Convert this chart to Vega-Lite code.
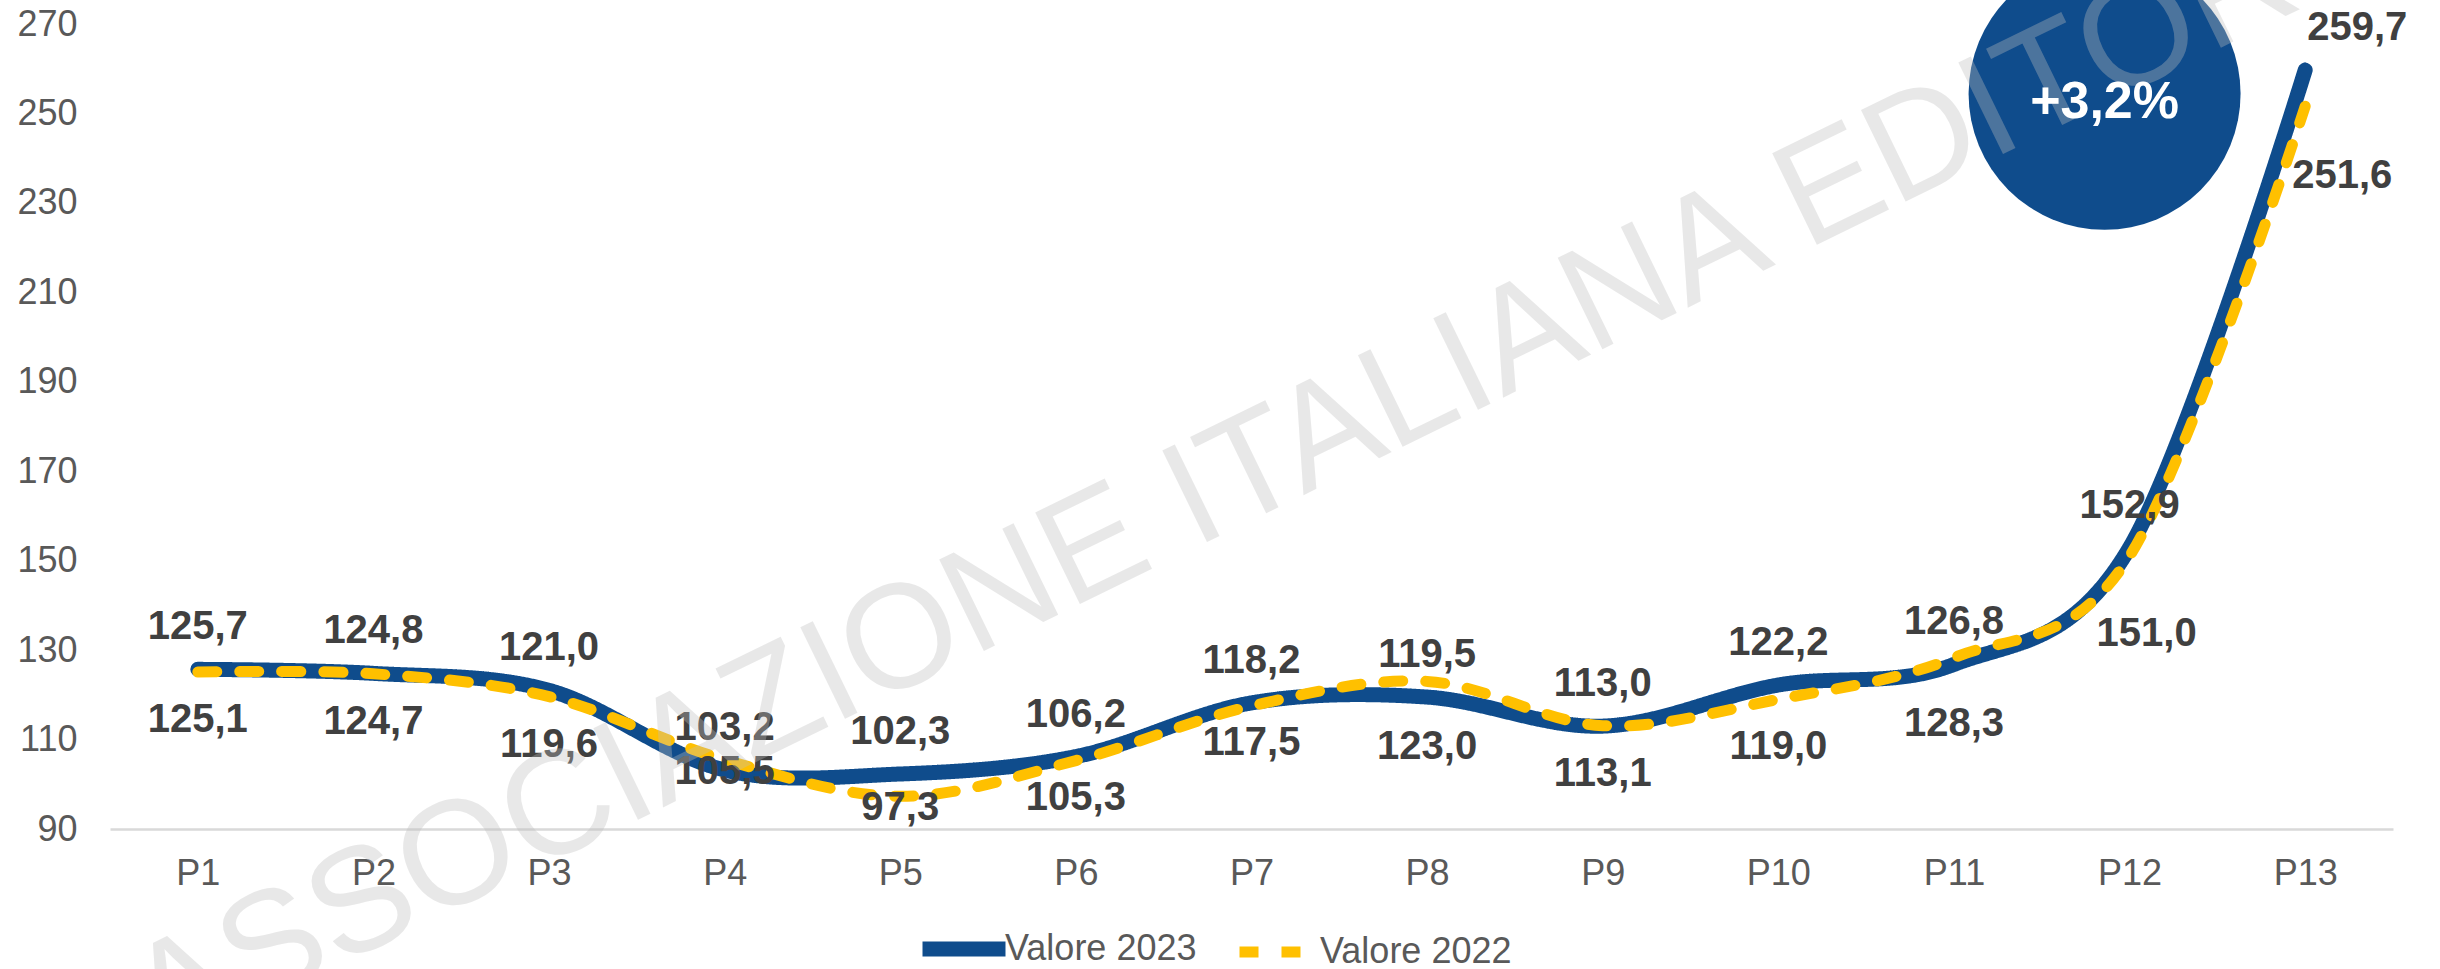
{
  "$schema": "https://vega.github.io/schema/vega-lite/v6.json",
  "width": 2283,
  "height": 805,
  "autosize": {"type": "none"},
  "padding": {"left": 110, "top": 24, "right": 47, "bottom": 140},
  "background": "white",
  "config": {
    "locale": {"number": {"decimal": ",", "thousands": ".", "grouping": [3], "currency": ["", " €"]}},
    "view": {"stroke": null},
    "font": "Liberation Sans",
    "axis": {"labelFont": "Liberation Sans", "labelFontSize": 36, "labelColor": "#595959", "grid": false, "ticks": false, "tickSize": 0, "title": null},
    "legend": {"orient": "none", "legendX": 805, "legendY": 876, "direction": "horizontal", "title": null, "labelFontSize": 36, "labelColor": "#595959", "labelFont": "Liberation Sans", "labelLimit": 0, "symbolType": "stroke", "symbolSize": 6889, "columnPadding": 20, "labelOffset": -8, "padding": 0}
  },
  "datasets": {
    "values": [
      {"period": "P1", "series": "Valore 2023", "value": 125.7},
      {"period": "P2", "series": "Valore 2023", "value": 124.8},
      {"period": "P3", "series": "Valore 2023", "value": 121.0},
      {"period": "P4", "series": "Valore 2023", "value": 103.2},
      {"period": "P5", "series": "Valore 2023", "value": 102.3},
      {"period": "P6", "series": "Valore 2023", "value": 106.2},
      {"period": "P7", "series": "Valore 2023", "value": 118.2},
      {"period": "P8", "series": "Valore 2023", "value": 119.5},
      {"period": "P9", "series": "Valore 2023", "value": 113.0},
      {"period": "P10", "series": "Valore 2023", "value": 122.2},
      {"period": "P11", "series": "Valore 2023", "value": 126.8},
      {"period": "P12", "series": "Valore 2023", "value": 152.9},
      {"period": "P13", "series": "Valore 2023", "value": 259.7},
      {"period": "P1", "series": "Valore 2022", "value": 125.1},
      {"period": "P2", "series": "Valore 2022", "value": 124.7},
      {"period": "P3", "series": "Valore 2022", "value": 119.6},
      {"period": "P4", "series": "Valore 2022", "value": 105.5},
      {"period": "P5", "series": "Valore 2022", "value": 97.3},
      {"period": "P6", "series": "Valore 2022", "value": 105.3},
      {"period": "P7", "series": "Valore 2022", "value": 117.5},
      {"period": "P8", "series": "Valore 2022", "value": 123.0},
      {"period": "P9", "series": "Valore 2022", "value": 113.1},
      {"period": "P10", "series": "Valore 2022", "value": 119.0},
      {"period": "P11", "series": "Valore 2022", "value": 128.3},
      {"period": "P12", "series": "Valore 2022", "value": 151.0},
      {"period": "P13", "series": "Valore 2022", "value": 251.6}
    ],
    "notes": [{"text": "+3,2%"}],
    "watermark": [{"text": "ASSOCIAZIONE ITALIANA EDITORI"}]
  },
  "layer": [
    {
      "data": {"name": "values"},
      "mark": {"type": "line", "interpolate": "cardinal", "tension": 0, "strokeCap": "round", "strokeJoin": "round"},
      "encoding": {
        "x": {"field": "period", "type": "ordinal", "sort": null, "scale": {"type": "point", "padding": 0.5},
              "axis": {"domain": true, "domainColor": "#d9d9d9", "domainWidth": 2.3, "labelAngle": 0, "labelPadding": 27}},
        "y": {"field": "value", "type": "quantitative", "scale": {"domain": [90, 270], "nice": false, "zero": false},
              "axis": {"values": [90, 110, 130, 150, 170, 190, 210, 230, 250, 270], "domain": false, "labelPadding": 33}},
        "color": {"field": "series", "type": "nominal", "scale": {"domain": ["Valore 2023", "Valore 2022"], "range": ["#0F4C8C", "#FFC000"]}},
        "strokeDash": {"field": "series", "type": "nominal", "scale": {"domain": ["Valore 2023", "Valore 2022"], "range": [[1, 0], [19, 23]]}},
        "strokeWidth": {"field": "series", "type": "nominal", "scale": {"domain": ["Valore 2023", "Valore 2022"], "range": [15, 11]}}
      }
    },
    {
      "data": {"name": "values"},
      "transform": [{"filter": "datum.series === 'Valore 2023' && datum.period !== 'P13'"}],
      "mark": {"type": "text", "dy": -42, "fontWeight": "bold", "fontSize": 40, "color": "#404040", "baseline": "middle"},
      "encoding": {
        "x": {"field": "period", "type": "ordinal", "sort": null},
        "y": {"field": "value", "type": "quantitative"},
        "text": {"field": "value", "type": "quantitative", "format": ".1f"}
      }
    },
    {
      "data": {"name": "values"},
      "transform": [{"filter": "datum.series === 'Valore 2023' && datum.period === 'P13'"}],
      "mark": {"type": "text", "dy": -42, "dx": 52, "fontWeight": "bold", "fontSize": 40, "color": "#404040", "baseline": "middle"},
      "encoding": {
        "x": {"field": "period", "type": "ordinal", "sort": null},
        "y": {"field": "value", "type": "quantitative"},
        "text": {"field": "value", "type": "quantitative", "format": ".1f"}
      }
    },
    {
      "data": {"name": "values"},
      "transform": [{"filter": "datum.series === 'Valore 2022' && indexof(['P1','P2','P3','P9','P10'], datum.period) >= 0"}],
      "mark": {"type": "text", "dy": 48, "fontWeight": "bold", "fontSize": 40, "color": "#404040", "baseline": "middle"},
      "encoding": {
        "x": {"field": "period", "type": "ordinal", "sort": null},
        "y": {"field": "value", "type": "quantitative"},
        "text": {"field": "value", "type": "quantitative", "format": ".1f"}
      }
    },
    {
      "data": {"name": "values"},
      "transform": [{"filter": "datum.series === 'Valore 2022' && indexof(['P6','P7'], datum.period) >= 0"}],
      "mark": {"type": "text", "dy": 37, "fontWeight": "bold", "fontSize": 40, "color": "#404040", "baseline": "middle"},
      "encoding": {
        "x": {"field": "period", "type": "ordinal", "sort": null},
        "y": {"field": "value", "type": "quantitative"},
        "text": {"field": "value", "type": "quantitative", "format": ".1f"}
      }
    },
    {
      "data": {"name": "values"},
      "transform": [{"filter": "datum.series === 'Valore 2022' && indexof(['P4','P5'], datum.period) >= 0"}],
      "mark": {"type": "text", "dy": 12, "fontWeight": "bold", "fontSize": 40, "color": "#404040", "baseline": "middle"},
      "encoding": {
        "x": {"field": "period", "type": "ordinal", "sort": null},
        "y": {"field": "value", "type": "quantitative"},
        "text": {"field": "value", "type": "quantitative", "format": ".1f"}
      }
    },
    {
      "data": {"name": "values"},
      "transform": [{"filter": "datum.series === 'Valore 2022' && indexof(['P8','P11'], datum.period) >= 0"}],
      "mark": {"type": "text", "dy": 66, "fontWeight": "bold", "fontSize": 40, "color": "#404040", "baseline": "middle"},
      "encoding": {
        "x": {"field": "period", "type": "ordinal", "sort": null},
        "y": {"field": "value", "type": "quantitative"},
        "text": {"field": "value", "type": "quantitative", "format": ".1f"}
      }
    },
    {
      "data": {"name": "values"},
      "transform": [{"filter": "datum.series === 'Valore 2022' && datum.period === 'P12'"}],
      "mark": {"type": "text", "dy": 78, "dx": 17, "fontWeight": "bold", "fontSize": 40, "color": "#404040", "baseline": "middle"},
      "encoding": {
        "x": {"field": "period", "type": "ordinal", "sort": null},
        "y": {"field": "value", "type": "quantitative"},
        "text": {"field": "value", "type": "quantitative", "format": ".1f"}
      }
    },
    {
      "data": {"name": "values"},
      "transform": [{"filter": "datum.series === 'Valore 2022' && datum.period === 'P13'"}],
      "mark": {"type": "text", "dy": 70, "dx": 37, "fontWeight": "bold", "fontSize": 40, "color": "#404040", "baseline": "middle"},
      "encoding": {
        "x": {"field": "period", "type": "ordinal", "sort": null},
        "y": {"field": "value", "type": "quantitative"},
        "text": {"field": "value", "type": "quantitative", "format": ".1f"}
      }
    },
    {
      "data": {"name": "notes"},
      "mark": {"type": "point", "shape": "circle", "filled": true, "size": 73984, "color": "#0F4C8C", "opacity": 1, "strokeWidth": 0},
      "encoding": {
        "x": {"datum": "P12", "type": "ordinal"},
        "y": {"datum": 254.4, "type": "quantitative"},
        "xOffset": {"value": -25}
      }
    },
    {
      "data": {"name": "watermark"},
      "mark": {"type": "text", "angle": 334, "fontSize": 148, "color": "#bfbfbf", "opacity": 0.35, "align": "center", "baseline": "alphabetic"},
      "encoding": {
        "x": {"datum": "P7", "type": "ordinal"},
        "y": {"datum": 159, "type": "quantitative"},
        "text": {"field": "text", "type": "nominal"}
      }
    },
    {
      "data": {"name": "notes"},
      "mark": {"type": "text", "fontSize": 52, "fontWeight": "bold", "color": "white", "baseline": "middle", "align": "center"},
      "encoding": {
        "x": {"datum": "P12", "type": "ordinal"},
        "y": {"datum": 252.6, "type": "quantitative"},
        "xOffset": {"value": -25},
        "text": {"field": "text", "type": "nominal"}
      }
    }
  ]
}
